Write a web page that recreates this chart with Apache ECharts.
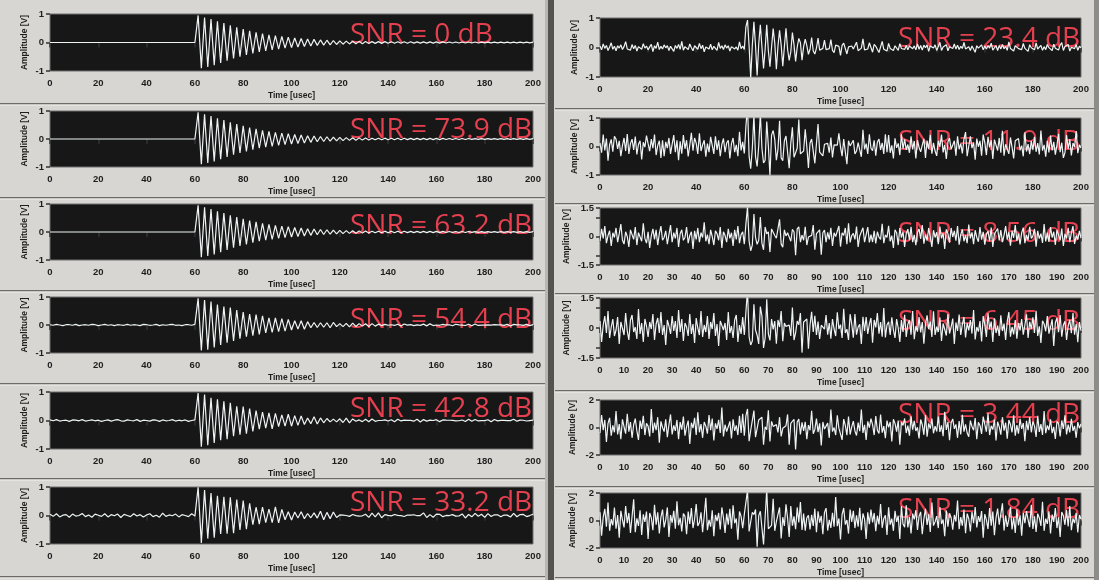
<!DOCTYPE html>
<html>
<head>
<meta charset="utf-8">
<script src="https://cdn.jsdelivr.net/npm/echarts@6/dist/echarts.min.js"></script>
<style>
  html, body { margin: 0; padding: 0; background: #d8d6d2; }
  #chart { width: 1099px; height: 580px; }
</style>
</head>
<body>
<div id="chart"></div>
<script>
// ---- data ---------------------------------------------------------------
// Panel captions, left column top-to-bottom then right column top-to-bottom
const snrLabels = [
  'SNR = 0 dB', 'SNR = 73.9 dB', 'SNR = 63.2 dB', 'SNR = 54.4 dB', 'SNR = 42.8 dB', 'SNR = 33.2 dB',
  'SNR = 23.4 dB', 'SNR = 11.9 dB', 'SNR = 8.56 dB', 'SNR = 6.45 dB', 'SNR = 3.44 dB', 'SNR = 1.84 dB'
];
// Amplitude axis half-range [V] for each panel
const yLimits = [1, 1, 1, 1, 1, 1, 1, 1, 1.5, 1.5, 2, 2];
// Time axis tick spacing [usec] for each panel
const xTickSteps = [20, 20, 20, 20, 20, 20, 20, 20, 10, 10, 10, 10];
const timeMax = 200;          // usec
const sampleStep = 2 / 3;     // usec between record samples (301 samples over 0..200)
// Left-column records are plotted at every 2nd sample, right-column at every sample
const sampleStride = [2, 2, 2, 2, 2, 2, 1, 1, 1, 1, 1, 1];

// Clean ultrasonic ring-down burst arriving at 60 usec [V], 301 samples
const ringdown = [
  0,0,0,0,0,0,0,0,0,0, 0,0,0,0,0,0,0,0,0,0, 0,0,0,0,0,0,0,0,0,0,
  0,0,0,0,0,0,0,0,0,0, 0,0,0,0,0,0,0,0,0,0, 0,0,0,0,0,0,0,0,0,0,
  0,0,0,0,0,0,0,0,0,0, 0,0,0,0,0,0,0,0,0,0, 0,0,0,0,0,0,0,0,0,0,
  0,0.6,
  0.95,0,-0.90,0,0.88,0,-0.86,0,0.82,0,-0.80,0,0.74,0,-0.72,0,0.68,0,
  -0.64,0,0.60,0,-0.56,0,0.53,0,-0.50,0,0.47,0,-0.44,0,0.41,0,-0.38,0,0.36,0,
  -0.33,0,0.31,0,-0.29,0,0.27,0,-0.26,0,0.24,0,-0.23,0,0.21,0,-0.20,0,0.19,0,
  -0.18,0,0.16,0,-0.16,0,0.14,0,-0.14,0,0.12,0,-0.12,0,0.11,0,-0.10,0,0.09,0,
  -0.09,0,0.08,0,-0.08,0,0.07,0,-0.07,0,0.06,0,-0.06,0,0.05,0,-0.05,0,0.045,0,
  -0.045,0,0.04,0,-0.04,0,0.035,0,-0.035,0,0.03,0,-0.03,0,
  0.03,0,-0.03,0,0.03,0,-0.028,0,0.028,0,-0.026,0,0.026,0,-0.025,0,0.025,0,-0.024,0,
  0.024,0,-0.023,0,0.023,0,-0.022,0,0.022,0,-0.021,0,0.021,0,-0.02,0,0.02,0,-0.02,0,
  0.02,0,-0.019,0,0.019,0,-0.018,0,0.018,0,-0.018,0,0.017,0,-0.017,0,0.017,0,-0.016,0,
  0.016,0,-0.016,0,0.015,0,-0.015,0,0.015,0,-0.015,0,0.014,0,-0.014,0,0.014,0,-0.014,0,
  0.013,0,-0.013,0,0.013,0,-0.013,0,0.012,0,-0.012,0,0.012,0,-0.012,0,0.012
];

// Additive noise records [V]; left column at 4/3 usec spacing (151 values)
const noise544 = [
  0.01,-0.01,0.02,0.00,-0.02,0.01,0.01,-0.01,0.02,-0.02,
  0.00,0.01,-0.01,0.02,0.01,-0.02,0.00,0.02,-0.01,0.01,
  -0.02,0.01,0.00,-0.01,0.02,-0.01,0.01,0.00,-0.02,0.02,
  0.01,-0.01,0.00,0.02,-0.02,0.01,-0.01,0.01,0.02,-0.01,
  0.00,-0.02,0.01,0.01,-0.01,0.02,0.00,-0.01,0.01,-0.02,
  0.02,0.00,-0.01,0.01,-0.02,0.01,0.02,-0.01,0.00,0.01,
  -0.01,0.02,-0.02,0.00,0.01,-0.01,0.02,0.01,-0.02,0.00,
  0.01,-0.01,0.02,-0.02,0.01,0.00,-0.01,0.02,0.01,-0.01,
  0.00,0.02,-0.02,0.01,-0.01,0.01,0.00,-0.02,0.02,0.01,
  -0.01,0.00,0.01,-0.02,0.02,-0.01,0.01,0.00,0.01,-0.02,
  0.02,-0.01,0.00,0.01,-0.01,0.02,-0.02,0.01,0.00,-0.01,
  0.01,0.02,-0.01,0.00,-0.02,0.01,0.01,-0.01,0.02,0.00,
  -0.02,0.01,0.00,0.02,-0.01,-0.01,0.01,0.02,-0.02,0.00,
  0.01,-0.01,0.02,0.00,-0.02,0.01,-0.01,0.01,0.00,0.02,
  -0.01,0.00,0.01,-0.02,0.01,0.02,-0.01,0.00,0.01,-0.01,
  0.00
];
const noise428 = [
  0.02,-0.01,0.03,-0.02,0.00,0.01,-0.03,0.02,0.01,-0.01,
  0.03,-0.02,0.00,0.02,-0.01,0.01,-0.03,0.00,0.02,-0.02,
  0.01,0.03,-0.01,-0.02,0.02,0.00,-0.01,0.03,-0.03,0.01,
  0.00,-0.02,0.02,0.01,-0.03,0.02,-0.01,0.00,0.03,-0.02,
  0.01,-0.01,0.02,-0.03,0.00,0.02,0.01,-0.02,0.03,-0.01,
  -0.02,0.01,0.00,0.03,-0.01,-0.02,0.02,0.01,-0.03,0.00,
  0.02,-0.02,0.01,0.00,-0.01,0.03,-0.02,0.02,0.00,-0.03,
  0.01,0.02,-0.01,0.00,0.03,-0.02,0.01,-0.01,0.02,0.00,
  -0.03,0.01,0.02,-0.02,0.00,0.01,-0.01,0.03,-0.02,0.02,
  0.00,-0.01,0.03,-0.03,0.01,0.02,-0.02,0.00,0.01,-0.01,
  0.02,0.00,-0.03,0.03,-0.01,0.01,0.00,-0.02,0.02,0.01,
  -0.01,0.03,-0.02,0.00,0.02,-0.03,0.01,0.00,-0.01,0.02,
  0.01,-0.02,0.00,0.03,-0.01,0.02,-0.03,0.01,0.00,-0.02,
  0.03,-0.01,0.02,0.00,-0.02,0.01,0.01,-0.03,0.02,0.00,
  -0.01,0.02,-0.02,0.01,0.03,-0.01,0.00,0.02,-0.03,0.01,
  0.00
];
const noise332 = [
  0.04,-0.03,0.06,-0.05,0.01,0.03,-0.06,0.05,-0.02,0.00,
  0.07,-0.04,0.02,-0.06,0.05,0.01,-0.03,0.06,-0.05,0.03,
  -0.01,0.05,-0.07,0.04,0.00,-0.04,0.06,-0.02,0.03,-0.05,
  0.02,0.06,-0.04,0.01,-0.06,0.08,-0.03,0.02,-0.01,0.05,
  -0.05,0.03,0.00,-0.04,0.06,-0.02,0.04,-0.06,0.01,0.05,
  -0.03,0.02,-0.05,0.07,-0.02,0.00,0.04,-0.06,0.03,-0.01,
  0.05,-0.04,0.02,0.06,-0.07,0.03,-0.02,0.04,-0.05,0.01,
  0.06,-0.03,0.00,0.05,-0.06,0.02,-0.04,0.07,-0.01,0.03,
  -0.05,0.04,-0.02,0.01,0.06,-0.06,0.03,-0.03,0.05,0.00,
  -0.04,0.07,-0.05,0.02,-0.01,0.04,-0.06,0.03,0.01,-0.03,
  0.05,-0.02,0.06,-0.05,0.00,0.03,-0.04,0.06,-0.02,0.02,
  -0.06,0.04,-0.01,0.05,-0.03,0.02,0.07,-0.05,0.01,-0.04,
  0.03,0.06,-0.06,0.02,-0.02,0.05,-0.04,0.00,0.04,-0.07,
  0.02,-0.03,0.06,-0.01,0.03,-0.05,0.05,-0.02,0.01,0.04,
  -0.06,0.03,0.00,-0.04,0.06,-0.03,0.02,0.05,-0.05,0.01,
  0.03
];
// Right column noise records at 2/3 usec spacing (301 values)
const noise234 = [
  0.05,-0.08,0.12,-0.03,0.07,-0.10,0.02,0.16,-0.06,0.04,
  -0.11,0.06,-0.02,0.09,-0.07,0.03,0.20,-0.05,0.01,-0.09,
  0.10,-0.04,0.07,-0.12,0.03,0.08,-0.06,0.13,-0.02,0.05,
  -0.08,0.02,0.11,-0.14,0.06,-0.03,0.18,-0.07,0.04,-0.05,
  0.09,-0.01,0.06,-0.10,0.04,0.02,-0.13,0.07,-0.03,0.10,
  -0.06,0.21,-0.09,0.03,0.05,-0.07,0.12,-0.01,-0.11,0.06,
  0.03,-0.06,0.14,-0.04,0.08,-0.15,0.02,0.07,-0.05,0.11,
  -0.08,0.04,0.00,-0.10,0.17,-0.03,0.06,-0.07,0.09,-0.02,
  0.06,-0.12,0.03,0.08,-0.05,0.02,-0.09,0.19,-0.04,0.05,
  -0.07,0.10,-0.02,0.04,-0.13,0.08,-0.01,0.06,-0.09,0.12,
  -0.05,0.02,0.09,-0.06,0.03,-0.11,0.07,0.01,-0.04,0.15,
  -0.10,0.05,-0.02,0.08,-0.07,0.03,0.12,-0.06,0.06,-0.14,
  0.04,0.09,-0.03,0.01,-0.10,0.16,-0.05,0.03,-0.08,0.06,
  0.10,-0.06,0.03,-0.12,0.07,-0.02,0.05,-0.09,0.11,-0.03,
  0.01,-0.07,0.10,-0.04,0.06,-0.10,0.03,0.08,-0.05,0.04,
  -0.09,0.07,-0.01,0.12,-0.06,0.02,-0.14,0.05,0.09,-0.03,
  0.06,-0.11,0.04,-0.02,0.18,-0.08,0.03,-0.05,0.07,0.00,
  -0.07,0.11,-0.04,0.05,-0.09,0.02,0.14,-0.06,0.04,-0.12,
  0.08,-0.03,0.06,-0.10,0.01,0.09,-0.05,0.13,-0.08,0.03,
  -0.02,0.07,-0.12,0.05,0.10,-0.04,0.02,-0.08,0.16,-0.06,
  0.04,-0.09,0.11,-0.01,0.06,-0.13,0.08,0.02,-0.05,0.09,
  -0.07,0.03,0.15,-0.10,0.04,-0.02,0.07,-0.11,0.05,0.01,
  -0.06,0.12,-0.03,0.08,-0.09,0.04,-0.01,0.17,-0.07,0.02,
  0.05,-0.10,0.03,0.09,-0.14,0.06,-0.04,0.02,0.11,-0.08,
  0.03,-0.05,0.08,-0.02,0.13,-0.09,0.01,0.06,-0.12,0.07,
  -0.03,0.10,-0.06,0.04,-0.08,0.19,-0.05,0.02,-0.10,0.06,
  0.09,-0.04,0.01,-0.07,0.12,-0.03,0.05,-0.13,0.08,-0.01,
  0.04,-0.08,0.14,-0.05,0.02,0.07,-0.11,0.03,-0.06,0.10,
  -0.02,0.06,-0.09,0.11,-0.04,0.03,-0.07,0.08,0.15,-0.10,
  0.05,-0.03,0.09,-0.12,0.02,0.06,-0.05,0.10,-0.08,0.04,
  -0.02
];
const noise119 = [
  0.12,-0.22,0.42,-0.14,0.28,-0.50,0.06,0.25,-0.18,0.36,
  0.26,-0.08,0.20,-0.34,0.03,0.30,-0.16,0.44,-0.26,0.10,
  0.26,-0.12,0.35,-0.28,0.08,0.20,-0.45,0.15,-0.02,0.38,
  0.10,-0.16,0.26,-0.06,0.42,-0.30,0.03,0.20,-0.40,0.22,
  -0.34,0.16,-0.06,0.30,-0.26,0.08,0.40,-0.20,0.22,-0.48,
  0.18,-0.25,0.40,-0.08,0.22,-0.35,0.05,0.48,-0.15,0.30,
  0.12,-0.26,0.46,-0.16,0.06,0.22,-0.36,0.10,-0.20,0.34,
  0.04,-0.26,0.36,-0.12,0.22,-0.34,0.08,0.28,-0.20,0.12,
  0.22,-0.42,0.10,0.30,-0.20,0.06,-0.34,0.52,-0.14,0.16,
  -0.24,0.10,0.48,-0.34,0.12,-0.06,0.22,-0.36,0.16,0.03,
  0.34,-0.06,0.22,-0.48,0.14,0.03,-0.30,0.40,-0.12,0.25,
  0.16,-0.10,0.30,-0.40,0.06,0.20,-0.16,0.34,-0.26,0.12,
  0.20,-0.38,0.12,-0.06,0.54,-0.26,0.08,-0.16,0.24,0.00,
  -0.42,0.12,-0.05,0.28,-0.30,0.10,0.52,-0.20,0.02,-0.33,
  -0.16,0.06,0.34,-0.22,0.10,-0.38,0.26,0.02,-0.14,0.46,
  0.16,-0.34,0.10,0.30,-0.46,0.20,-0.12,0.06,0.36,-0.26,
  -0.28,0.14,0.00,-0.36,0.48,-0.10,0.20,-0.26,0.34,-0.06,
  -0.06,0.22,-0.40,0.16,0.34,-0.12,0.06,-0.26,0.50,-0.20,
  0.34,-0.22,0.10,-0.42,0.24,-0.05,0.16,-0.30,0.38,-0.08,
  0.30,-0.12,0.03,-0.22,0.40,-0.10,0.16,-0.42,0.26,-0.03,
  -0.22,0.05,0.30,-0.40,0.18,-0.08,0.44,-0.25,0.10,-0.16,
  -0.30,0.20,-0.04,0.42,-0.18,0.06,-0.46,0.16,0.32,-0.10,
  -0.06,0.20,-0.30,0.36,-0.12,0.10,-0.22,0.26,0.48,-0.34,
  -0.26,0.36,-0.08,0.14,-0.44,0.28,-0.03,0.20,-0.30,0.42,
  0.12,-0.30,0.36,-0.03,0.20,-0.44,0.26,0.05,-0.16,0.30,
  -0.20,0.55,-0.34,0.08,0.16,-0.26,0.30,-0.03,-0.40,0.20,
  0.14,0.28,-0.12,0.03,-0.36,0.50,-0.16,0.08,-0.28,0.20,
  -0.10,0.34,-0.20,0.12,-0.26,0.56,-0.16,0.06,-0.34,0.20,
  -0.22,0.38,-0.12,0.16,-0.30,0.05,0.46,-0.20,0.12,-0.40,
  -0.20,0.40,-0.10,0.26,-0.30,0.12,-0.03,0.54,-0.22,0.06,
  -0.06
];
const noise856 = [
  -0.25,0.40,-0.10,0.55,-0.35,0.05,0.30,-0.50,0.20,-0.05,
  0.45,-0.30,0.15,0.65,-0.20,-0.40,0.25,0.00,-0.55,0.35,
  0.10,-0.15,0.50,-0.45,0.20,0.30,-0.25,0.70,-0.10,-0.35,
  0.25,-0.60,0.05,0.40,-0.15,0.35,-0.45,0.15,0.55,-0.20,
  -0.05,0.30,-0.40,0.10,0.60,-0.30,0.20,-0.10,0.45,-0.55,
  0.15,0.35,-0.20,-0.05,0.50,-0.35,0.05,0.25,-0.65,0.30,
  -0.15,0.45,-0.30,0.20,-0.05,0.75,-0.25,0.10,-0.40,0.35,
  0.00,-0.45,0.30,0.15,-0.20,0.50,-0.60,0.25,0.05,-0.30,
  0.40,-0.10,0.20,-0.50,0.35,-0.15,0.55,-0.35,0.10,0.25,
  -0.40,0.05,0.60,-0.25,0.15,-0.45,0.30,-0.05,0.45,-0.20,
  0.20,-0.35,0.10,0.50,-0.60,0.25,-0.10,0.40,-0.30,0.05,
  0.55,-0.15,0.30,-0.40,0.00,0.35,-0.50,0.20,0.65,-0.25,
  -0.10,0.25,-0.55,0.40,0.10,-0.30,0.45,-0.20,0.15,-0.45,
  0.30,0.05,-0.25,0.60,-0.40,0.15,-0.05,0.35,-0.70,0.20,
  0.10,-0.30,0.45,-0.15,0.25,-0.50,0.40,0.00,-0.20,0.55,
  -0.35,0.20,-0.10,0.45,-0.25,0.70,-0.45,0.05,0.30,-0.15,
  0.40,-0.55,0.15,-0.05,0.35,-0.30,0.20,0.50,-0.40,0.10,
  -0.20,0.30,-0.45,0.25,0.05,-0.15,0.60,-0.35,0.15,-0.05,
  0.50,-0.25,0.10,-0.60,0.30,0.20,-0.40,0.45,-0.10,0.25,
  -0.50,0.15,0.35,-0.20,0.55,-0.30,0.05,-0.45,0.25,0.40,
  -0.15,0.60,-0.35,0.10,-0.25,0.45,0.00,-0.55,0.30,-0.05,
  0.25,-0.40,0.50,-0.10,0.20,-0.65,0.35,0.15,-0.30,0.45,
  -0.05,0.30,-0.20,0.55,-0.45,0.10,0.40,-0.25,0.05,-0.35,
  0.65,-0.10,0.20,-0.40,0.35,-0.05,-0.30,0.50,-0.15,0.25,
  -0.45,0.10,0.30,-0.25,0.45,-0.55,0.15,0.05,0.40,-0.20,
  0.35,-0.30,0.05,0.55,-0.15,0.25,-0.50,0.30,-0.05,0.60,
  -0.25,0.15,-0.40,0.20,0.45,-0.35,0.10,-0.20,0.50,-0.10,
  0.05,0.40,-0.55,0.30,-0.10,0.15,-0.35,0.65,-0.25,0.20,
  -0.30,0.50,-0.05,0.25,-0.45,0.35,0.10,-0.20,0.40,-0.50,
  0.15,-0.10,0.45,-0.30,0.20,0.55,-0.40,0.05,-0.15,0.30,
  -0.10
];
const noise645 = [
  0.35,-0.70,0.15,0.60,-0.25,0.85,-0.50,0.05,0.45,-0.40,
  -0.10,0.55,-0.80,0.30,0.20,-0.35,0.75,-0.15,-0.60,0.40,
  0.65,-0.20,0.05,-0.55,0.95,-0.30,0.25,-0.70,0.45,0.10,
  -0.45,0.30,-0.05,0.70,-0.60,0.20,0.50,-0.25,0.80,-0.35,
  0.15,-0.85,0.40,0.10,-0.30,0.60,-0.15,0.35,-0.50,0.90,
  -0.20,0.45,-0.65,0.25,0.05,-0.40,0.70,-0.30,0.20,-0.75,
  0.50,0.00,-0.35,0.85,-0.45,0.15,-0.20,0.60,-0.55,0.30,
  -0.05,0.75,-0.40,0.20,-0.90,0.35,0.45,-0.10,0.25,-0.60,
  0.80,-0.25,0.10,-0.50,0.40,0.65,-0.70,0.15,-0.30,0.55,
  -0.35,0.20,0.95,-0.45,0.05,-0.65,0.30,-0.10,0.50,-0.80,
  0.25,0.60,-0.20,-0.50,0.70,-0.30,0.10,0.45,-0.75,0.35,
  -0.15,0.40,-0.55,0.85,-0.10,0.25,-0.45,0.05,0.65,-0.40,
  0.55,-0.60,0.20,0.35,-0.25,0.75,-0.85,0.30,-0.05,0.45,
  -0.70,0.15,0.50,-0.20,0.90,-0.35,0.05,-0.55,0.40,0.20,
  -0.30,0.65,-0.10,0.25,-0.75,0.45,0.15,-0.40,0.60,-0.05,
  0.35,-0.50,0.80,-0.25,0.10,-0.60,0.55,0.20,-0.35,0.70,
  -0.45,0.05,0.30,-0.80,0.45,-0.15,0.65,-0.30,0.10,0.50,
  -0.65,0.40,-0.05,0.75,-0.20,0.30,-0.50,1.00,-0.40,0.15,
  0.25,-0.35,0.60,-0.10,-0.55,0.45,0.05,-0.70,0.35,-0.20,
  0.70,-0.45,0.15,0.40,-0.30,0.85,-0.60,0.10,-0.15,0.55,
  -0.25,0.30,-0.75,0.20,0.60,-0.05,0.35,-0.45,0.80,-0.35,
  0.10,-0.20,0.50,-0.65,0.25,0.15,-0.40,0.70,-0.25,0.05,
  0.45,-0.80,0.30,-0.15,0.65,-0.35,0.20,0.55,-0.50,0.25,
  -0.10,0.40,-0.30,0.90,-0.55,0.05,-0.20,0.35,-0.65,0.60,
  0.15,-0.45,0.75,-0.05,0.30,-0.70,0.50,-0.25,0.10,-0.40,
  0.65,-0.15,0.20,-0.60,0.35,0.80,-0.45,0.05,-0.30,0.40,
  -0.55,0.25,-0.10,0.45,-0.35,0.15,0.70,-0.50,0.30,-0.05,
  0.55,-0.25,0.85,-0.40,0.10,-0.75,0.35,0.20,-0.15,0.60,
  -0.30,0.05,0.45,-0.90,0.25,0.50,-0.20,0.65,-0.45,0.15,
  0.35,-0.60,0.10,0.40,-0.25,0.75,-0.35,0.20,-0.70,0.30,
  -0.15
];
const noise344 = [
  -0.40,0.90,-0.20,0.55,-1.05,0.30,0.70,-0.60,0.15,-0.35,
  1.20,-0.50,0.25,-0.85,0.60,0.05,-0.45,1.00,-0.30,0.40,
  -0.75,0.20,0.65,-0.25,-0.90,0.50,-0.10,0.85,-0.55,0.30,
  0.10,-0.65,1.35,-0.40,0.35,-0.20,0.75,-1.10,0.45,0.00,
  -0.30,0.60,-0.70,0.20,0.95,-0.50,0.15,-0.25,0.55,-0.85,
  0.40,-0.15,0.80,-0.60,0.05,0.50,-1.20,0.35,-0.05,0.70,
  -0.55,1.10,-0.35,0.25,-0.75,0.40,0.10,-0.45,0.90,-0.20,
  0.65,-0.95,0.30,-0.10,0.55,-0.40,1.45,-0.65,0.20,-0.30,
  0.05,0.45,-0.80,0.60,-0.25,0.15,-0.55,0.85,-0.40,1.00,
  -0.60,0.25,0.40,-1.00,0.70,-0.15,0.35,-0.70,0.10,0.55,
  -0.20,0.75,-0.45,0.05,-0.90,1.25,-0.30,0.45,-0.60,0.20,
  0.85,-0.35,0.15,-0.65,0.50,-0.05,-0.40,0.95,-0.75,0.30,
  -0.10,0.60,-1.15,0.40,0.20,-0.50,0.75,-0.25,0.05,-0.85,
  0.50,-0.20,0.90,-0.45,0.15,0.65,-0.60,0.30,-1.05,0.40,
  -0.35,0.10,0.55,-0.75,1.10,-0.30,0.20,-0.55,0.70,-0.05,
  0.25,-0.90,0.45,0.15,-0.40,0.80,-0.65,0.05,0.60,-0.25,
  -0.70,0.35,-0.15,1.30,-0.50,0.20,-0.80,0.45,-0.10,0.65,
  0.30,-0.55,0.75,-0.20,-0.35,0.95,-0.45,0.10,-0.70,0.50,
  -0.05,0.40,-0.95,0.60,0.25,-0.30,0.55,-1.25,0.35,0.15,
  0.70,-0.40,0.10,-0.60,0.85,-0.15,0.45,-0.25,0.05,-0.80,
  0.55,0.20,-0.50,0.90,-0.70,0.30,-0.05,0.65,-0.45,0.10,
  -0.25,0.80,-0.35,0.15,-0.60,1.15,-0.20,0.40,-0.90,0.35,
  0.60,-0.10,0.25,-0.75,0.45,-0.50,0.95,-0.30,0.20,-0.40,
  -0.65,0.50,0.05,-0.20,0.70,-0.85,0.35,0.15,-0.45,0.80,
  0.20,-0.30,1.05,-0.55,0.10,-0.15,0.60,-0.95,0.40,0.05,
  -0.50,0.75,-0.25,0.35,-0.80,0.55,0.20,-0.35,0.90,-0.60,
  0.15,-0.45,0.65,-0.10,0.30,-1.00,0.50,-0.20,0.75,-0.35,
  0.45,0.10,-0.70,0.85,-0.30,0.25,-0.55,1.20,-0.40,0.15,
  -0.20,0.60,-0.40,0.05,-0.85,0.45,0.30,-0.65,0.50,-0.10,
  0.90,-0.50,0.20,-0.35,0.65,-0.25,0.10,-0.75,0.40,-0.05,
  0.25
];
const noise184 = [
  0.60,-1.10,0.25,0.85,-0.45,1.30,-0.75,0.10,-0.35,0.95,
  -0.60,0.40,-1.25,0.70,0.05,-0.50,1.05,-0.20,0.55,-0.90,
  0.30,1.55,-0.85,0.15,-0.40,0.75,-1.05,0.45,-0.10,0.65,
  -1.35,0.55,0.20,-0.70,1.15,-0.30,0.60,-0.95,0.25,0.80,
  -0.50,0.05,0.95,-1.20,0.40,-0.15,0.70,-0.60,1.40,-0.35,
  0.20,-0.80,0.50,0.30,-1.00,0.65,-0.25,0.90,-0.55,0.10,
  1.20,-0.40,-0.15,0.60,-0.85,0.35,1.65,-0.70,0.05,-0.45,
  0.75,-1.15,0.40,-0.05,0.55,-0.65,0.95,0.20,-0.90,0.50,
  -0.30,0.85,-0.60,1.10,-0.20,0.15,-1.40,0.65,0.30,-0.55,
  0.45,-0.25,1.25,-0.80,0.10,0.60,-0.45,0.80,-1.05,0.35,
  -0.15,0.70,-0.95,0.25,1.50,-0.60,0.05,-0.35,0.90,-0.75,
  0.55,-0.10,0.35,-1.30,0.80,-0.40,0.65,0.15,-0.70,1.05,
  -0.85,0.30,-0.20,0.95,-0.55,1.35,-0.30,0.50,-1.10,0.20,
  0.70,-0.65,0.10,-0.40,1.15,-0.85,0.40,-0.15,0.60,-1.00,
  0.35,0.90,-0.50,0.05,-0.75,0.55,-0.25,1.70,-0.60,0.15,
  -1.20,0.45,0.75,-0.30,0.20,-0.95,0.65,-0.10,0.85,-0.55,
  0.25,-0.45,1.05,-0.70,0.40,0.10,-1.25,0.60,-0.35,0.80,
  -0.05,0.55,-0.85,0.35,-0.20,1.20,-0.60,0.15,0.45,-1.05,
  0.90,-0.30,0.20,-0.75,0.65,-0.10,0.40,-1.35,1.00,-0.25,
  -0.45,1.10,-0.55,0.25,-0.90,0.50,0.05,0.75,-0.65,0.30,
  0.60,-1.00,0.15,0.85,-0.35,0.45,-0.80,1.30,-0.40,-0.10,
  0.35,-0.55,0.95,-0.25,0.10,-1.15,0.70,-0.45,0.55,0.20,
  -0.70,0.40,-0.05,1.45,-0.65,0.25,-0.35,0.80,-0.95,0.50,
  0.15,-0.80,0.60,-0.20,1.00,-0.50,0.30,-0.10,0.70,-1.25,
  0.45,0.05,-0.60,0.90,-0.40,0.65,-1.05,0.20,0.85,-0.30,
  -0.15,1.25,-0.75,0.35,-0.45,0.10,0.95,-0.65,0.25,-0.90,
  0.80,-0.35,0.40,-1.10,0.55,-0.20,0.70,0.05,-0.50,1.15,
  -0.60,0.30,-0.85,0.50,0.20,-0.40,1.35,-0.75,0.15,-0.25,
  0.65,-0.95,0.45,-0.10,0.90,-0.55,0.25,-1.20,0.60,0.35,
  -0.30,0.75,-0.45,1.05,-0.70,0.15,-0.20,0.55,-0.85,0.40,
  0.10
];
const noiseByPanel = [
  null, null, null, noise544, noise428, noise332,
  noise234, noise119, noise856, noise645, noise344, noise184
];

// ---- layout -------------------------------------------------------------
// Plot rectangles [left, top, width, height] in px
const plotBoxes = [
  [50, 14, 483, 57], [50, 111, 483, 56], [50, 204, 483, 56],
  [50, 297, 483, 56], [50, 392, 483, 57], [50, 487, 483, 57],
  [600, 18, 481, 59], [600, 118, 481, 57], [600, 208, 481, 57],
  [600, 298, 481, 60], [600, 400, 481, 55], [600, 493, 481, 55]
];
// Caption anchor: [left x, vertical centre of capitals]
const captionPos = [
  [350, 36], [350, 131], [350, 227], [350, 321], [350, 410], [350, 504],
  [898, 40], [898, 143], [898, 235], [898, 323], [898, 416], [898, 511]
];
const yNameGaps = [21, 21, 21, 21, 21, 21, 21, 21, 29, 29, 23, 23];
const leftSeparators = [103, 197, 290, 383, 478, 576];
const rightSeparators = [108, 203, 293, 390, 486, 577];

// ---- build --------------------------------------------------------------
const tickFont = { fontFamily: 'Liberation Sans', fontWeight: 'bold', fontSize: 9.5, color: '#1e1e1e' };
const nameFont = { fontFamily: 'Liberation Sans', fontWeight: 'bold', fontSize: 8.5, color: '#1e1e1e' };

const grids = [], xAxes = [], yAxes = [], series = [], titles = [];

plotBoxes.forEach((b, k) => {
  grids.push({
    left: b[0], top: b[1], width: b[2], height: b[3],
    show: true, backgroundColor: '#171717', borderColor: '#707070', borderWidth: 1, z: 0
  });

  xAxes.push({
    type: 'value', gridIndex: k, min: 0, max: timeMax, interval: xTickSteps[k],
    axisLine: { show: false },
    axisTick: { show: true, length: 5, lineStyle: { color: '#333', width: 1.5 } },
    axisLabel: Object.assign({ margin: 7 }, tickFont),
    splitLine: { show: false },
    name: 'Time [usec]', nameLocation: 'middle', nameGap: 20,
    nameTextStyle: nameFont
  });

  const r = yLimits[k];
  const yAxis = {
    type: 'value', gridIndex: k, min: -r, max: r, interval: r,
    axisLine: { show: false },
    axisTick: { show: true, length: 4, lineStyle: { color: '#333', width: 1.5 } },
    axisLabel: Object.assign({ margin: 6 }, tickFont),
    splitLine: { show: false },
    name: 'Amplitude [V]', nameLocation: 'middle', nameRotate: 90, nameGap: yNameGaps[k],
    nameTextStyle: nameFont
  };
  if (r === 1.5) {
    yAxis.interval = 0.5;
    yAxis.axisLabel.customValues = [-1.5, 0, 1.5];
    yAxis.axisTick.customValues = [-1.5, -1, 0, 1, 1.5];
  }
  yAxes.push(yAxis);

  // Received waveform = burst + that panel's noise record
  const noise = noiseByPanel[k];
  const stride = sampleStride[k];
  const data = [];
  for (let i = 0, n = 0; i < ringdown.length; i += stride, n++) {
    data.push([i * sampleStep, ringdown[i] + (noise ? (noise[n] || 0) : 0)]);
  }
  series.push({
    type: 'line', xAxisIndex: k, yAxisIndex: k, data: data,
    showSymbol: false, symbol: 'none', silent: true, z: 3,
    lineStyle: { color: '#eef3f3', width: 1.2 }
  });

  titles.push({
    text: snrLabels[k], left: captionPos[k][0], top: captionPos[k][1] - 17,
    padding: 0, z: 1,
    textStyle: { fontFamily: 'Open Sans', fontSize: 28, fontWeight: 'normal', color: '#e4404f', lineHeight: 32 }
  });
});

// Panel frame decorations: row separators and column divider
const graphic = [];
leftSeparators.forEach(y => {
  graphic.push({ type: 'rect', shape: { x: 0, y: y, width: 546, height: 1.5 }, style: { fill: '#6d6b68' }, z: 0 });
  graphic.push({ type: 'rect', shape: { x: 0, y: y + 1.5, width: 546, height: 1 }, style: { fill: '#f1f0ed' }, z: 0 });
});
rightSeparators.forEach(y => {
  graphic.push({ type: 'rect', shape: { x: 555, y: y, width: 540, height: 1.5 }, style: { fill: '#6d6b68' }, z: 0 });
  graphic.push({ type: 'rect', shape: { x: 555, y: y + 1.5, width: 540, height: 1 }, style: { fill: '#f1f0ed' }, z: 0 });
});
graphic.push({ type: 'rect', shape: { x: 545, y: 0, width: 3, height: 580 }, style: { fill: '#b8b6b2' }, z: 0 });
graphic.push({ type: 'rect', shape: { x: 548, y: 0, width: 6, height: 580 }, style: { fill: '#55534f' }, z: 0 });
graphic.push({ type: 'rect', shape: { x: 1094, y: 0, width: 5, height: 580 }, style: { fill: '#8e8c88' }, z: 0 });

const chart = echarts.init(document.getElementById('chart'), null, { renderer: 'canvas' });
chart.setOption({
  animation: false,
  backgroundColor: '#d8d6d2',
  title: titles,
  grid: grids,
  xAxis: xAxes,
  yAxis: yAxes,
  series: series,
  graphic: graphic
});
</script>
</body>
</html>
